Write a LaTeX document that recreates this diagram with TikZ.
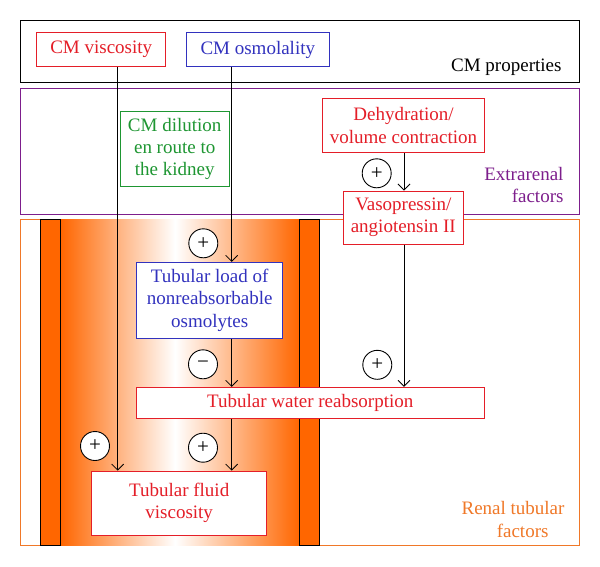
\documentclass[tikz,border=0pt]{standalone}
\usepackage{fontspec}
\setmainfont{Liberation Serif}
\usetikzlibrary{arrows.meta,calc}
\definecolor{cred}{RGB}{228,30,40}
\definecolor{cblue}{RGB}{50,50,190}
\definecolor{cgreen}{RGB}{30,150,50}
\definecolor{cpurple}{RGB}{125,30,140}
\definecolor{corange}{RGB}{240,120,40}
\definecolor{orb}{RGB}{255,102,0}
\definecolor{omid}{RGB}{232,152,118}
\begin{document}
\begin{tikzpicture}[x=1pt,y=-1pt,
  txt/.style={font=\fontsize{19}{22.3}\selectfont},
  box/.style={txt, draw, line width=0.9pt, fill=white, align=center, inner sep=0pt},
  region/.style={draw, line width=1pt, inner sep=0pt},
  arr/.style={line width=0.8pt, -{Straight Barb[length=6pt,width=12pt]}},
  sign/.style={circle, draw, line width=0.9pt, fill=white, minimum size=29pt, inner sep=0pt, font=\fontsize{21}{21}\selectfont},
  bar/.style={draw, line width=0.9pt, fill=orb, minimum width=20pt, minimum height=326pt, inner sep=0pt}]
\useasboundingbox (0,0) rectangle (600,566);
\fill[white] (0,0) rectangle (600,566);

% regions
\node[region, draw=black, minimum width=558.6pt, minimum height=61.3pt] (cmprop) at (300,51.35) {};
\node[region, draw=cpurple, minimum width=558.6pt, minimum height=125.6pt] (extra) at (300,151.5) {};
\node[region, draw=corange, minimum width=558.6pt, minimum height=326pt] (renal) at (300,382) {};

% gradient tube
\shade[left color=orb, middle color=omid, right color=white] (60.7,219) rectangle (175,545);
\shade[left color=white, middle color=omid, right color=orb] (175,219) rectangle (299.3,545);
\node[bar] (lbar) at (50.7,382) {};
\node[bar] (rbar) at (309.3,382) {};

% labels
\node[txt, anchor=base east] (cmproplabel) at (565,71.7) {CM properties};
\node[txt, anchor=east, align=right, text=cpurple] (extlabel) at (567,185) {Extrarenal\\factors};
\node[txt, anchor=east, align=right, text=corange] (renlabel) at (568,519.5) {Renal tubular\\factors\hspace*{16pt}};

% coordinates for vertical lines
\coordinate (xv) at (117.7,0);
\coordinate (xo) at (231.7,0);
\coordinate (xd) at (404,0);

% boxes
\node[box, draw=cred, text=cred, minimum width=129pt, minimum height=34.4pt] (cmvisc) at (101.2,49.5) {CM viscosity};
\node[box, draw=cblue, text=cblue, minimum width=142.8pt, minimum height=34.4pt] (cmosm) at (257.8,49.5) {CM osmolality};
\node[box, draw=cgreen, text=cgreen, minimum width=108.7pt, minimum height=75.7pt] (dilution) at (174.7,148.8) {CM dilution\\en route to\\the kidney};
\node[box, draw=cred, text=cred, minimum width=161.6pt, minimum height=53.6pt] (dehyd) at (403.5,125.5) {Dehydration/\\volume contraction};
\node[box, draw=cred, text=cred, minimum width=120pt, minimum height=53.2pt] (vaso) at (403.3,217.6) {Vasopressin/\\angiotensin II};
\node[box, draw=cblue, text=cblue, minimum width=146pt, minimum height=76pt] (load) at (209.7,300.3) {Tubular load of\\nonreabsorbable\\osmolytes};
\node[box, draw=cred, text=cred, minimum width=347.3pt, minimum height=31pt] (water) at (310.3,402.8) {Tubular water reabsorption};
\node[box, draw=cred, text=cred, minimum width=175pt, minimum height=64.3pt] (fluid) at (179.2,503.2) {Tubular fluid\\viscosity};

% connectors
\draw[arr] (cmvisc.south -| xv) -- (fluid.north -| xv);
\draw[arr] (cmosm.south -| xo) -- (load.north -| xo);
\draw[arr] (dehyd.south -| xd) -- (vaso.north -| xd);
\draw[arr] (load.south -| xo) -- (water.north -| xo);
\draw[arr] (vaso.south -| xd) -- (water.north -| xd);
\draw[arr] (water.south -| xo) -- (fluid.north -| xo);

% signs
\node[sign] (s1) at (376.7,173.3) {+};
\node[sign] (s2) at (203.3,243.3) {+};
\node[sign] (s3) at (203,364.3) {−};
\node[sign] (s4) at (377.3,364.8) {+};
\node[sign] (s5) at (95,446) {+};
\node[sign] (s6) at (203,447.7) {+};
\end{tikzpicture}
\end{document}
